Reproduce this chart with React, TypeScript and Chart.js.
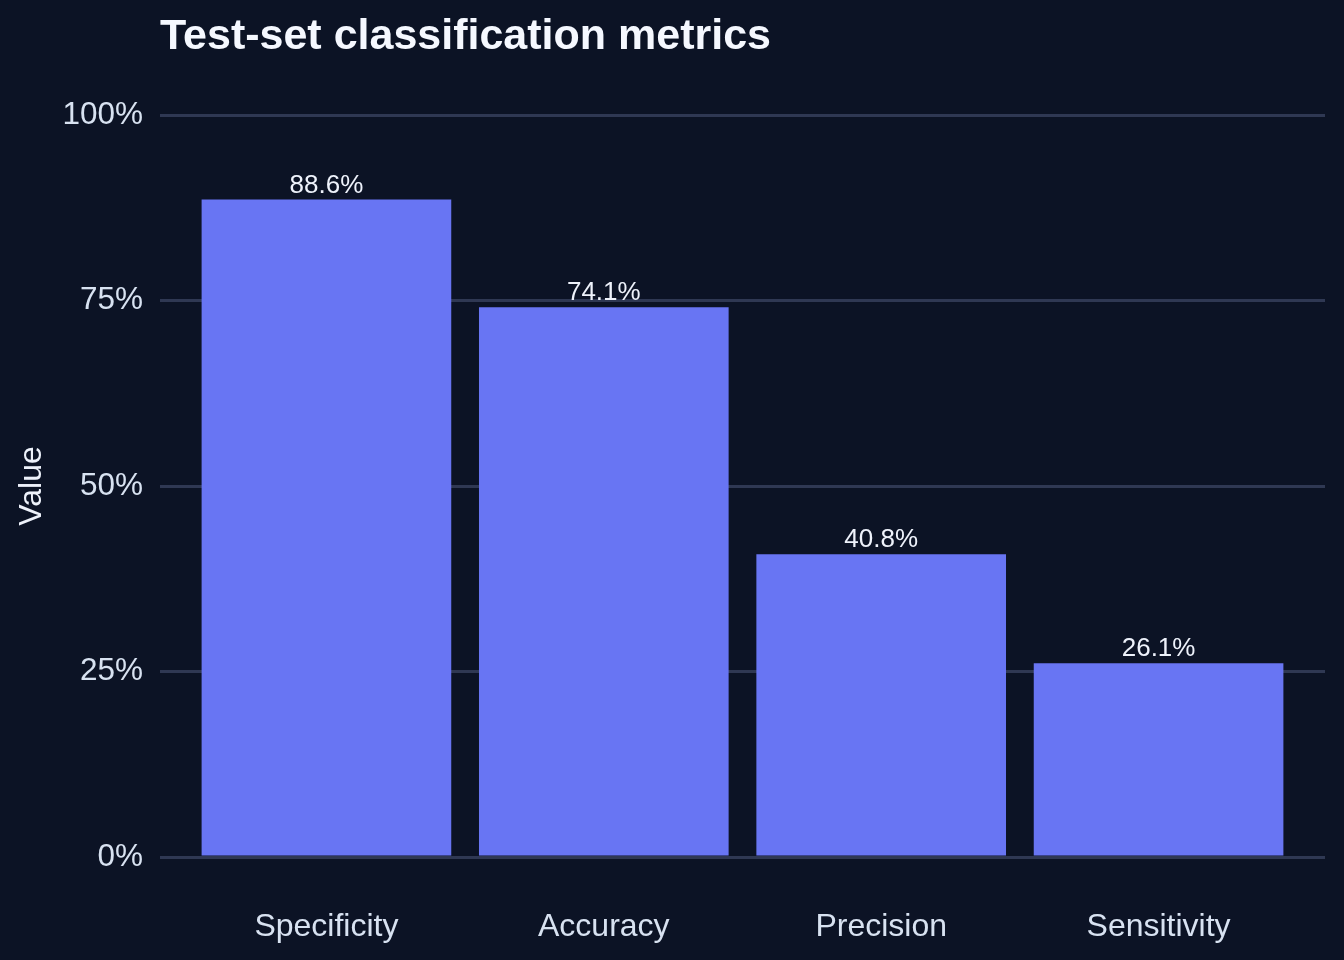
import React, { useEffect, useRef } from 'react'
import Chart, { ChartConfiguration, Plugin } from 'chart.js/auto'

const categories = ['Specificity', 'Accuracy', 'Precision', 'Sensitivity']
const values = [88.6, 74.1, 40.8, 26.1]
const yTicks = [0, 25, 50, 75, 100]

const BG = '#0c1325'
const BAR = '#6875f3'
const GRID = '#2f3853'
const TEXT = '#d8e2f1'
const FONT = "'Liberation Sans', Arial, Helvetica, sans-serif"

// value labels above each bar
const barLabels: Plugin<'bar'> = {
  id: 'barLabels',
  afterDatasetsDraw(chart) {
    const ctx = chart.ctx
    const meta = chart.getDatasetMeta(0)
    ctx.save()
    ctx.font = `26px ${FONT}`
    ctx.fillStyle = '#eef2fb'
    ctx.textAlign = 'center'
    ctx.textBaseline = 'alphabetic'
    meta.data.forEach((bar, i) => {
      ctx.fillText(`${values[i].toFixed(1)}%`, bar.x, bar.y - 7)
    })
    ctx.restore()
  },
}

const App = () => {
  const chartRef = useRef<HTMLCanvasElement>(null)
  const chartInstance = useRef<Chart>()

  useEffect(() => {
    document.body.style.margin = '0'
    document.body.style.background = BG
    if (chartRef.current) {
      const ctx = chartRef.current.getContext('2d')
      if (ctx) {
        const config: ChartConfiguration<'bar', { x: number; y: number }[], string> = {
          type: 'bar',
          data: {
            datasets: [
              {
                data: values.map((v, i) => ({ x: i + 1, y: v })),
                backgroundColor: BAR,
                borderWidth: 0,
                categoryPercentage: 0.9,
                barPercentage: 1,
              },
            ],
          },
          options: {
            animation: false,
            responsive: false,
            layout: { padding: { left: 0, right: 19, top: 0, bottom: 0 } },
            plugins: {
              legend: { display: false },
              tooltip: { enabled: false },
              title: {
                display: true,
                text: 'Test-set classification metrics',
                align: 'start',
                fullSize: false,
                color: '#f5f8ff',
                font: { family: FONT, size: 43, weight: 'bold', lineHeight: 1.2 },
                padding: { top: 11, bottom: 52.4 },
              },
            },
            scales: {
              x: {
                type: 'linear',
                min: 0.4,
                max: 4.6,
                offset: false,
                grid: { display: false },
                border: { display: false },
                afterBuildTicks: (scale) => {
                  scale.ticks = categories.map((_, i) => ({ value: i + 1 }))
                },
                afterFit: (scale) => {
                  scale.height = 103
                },
                ticks: {
                  color: TEXT,
                  padding: 43,
                  autoSkip: false,
                  maxRotation: 0,
                  font: { family: FONT, size: 32 },
                  callback: (v) => categories[Number(v) - 1] ?? '',
                },
              },
              y: {
                min: 0,
                max: 100,
                afterBuildTicks: (scale) => {
                  scale.ticks = yTicks.map((v) => ({ value: v }))
                },
                afterFit: (scale) => {
                  scale.width = 160
                },
                grid: { color: GRID, lineWidth: 3, drawTicks: false },
                border: { display: false },
                ticks: {
                  color: TEXT,
                  padding: 17,
                  font: { family: FONT, size: 31.5 },
                  callback: (v) => `${v}%`,
                },
                title: {
                  display: true,
                  text: 'Value',
                  color: '#eef2fb',
                  font: { family: FONT, size: 32 },
                  padding: { top: 13, bottom: 0 },
                },
              },
            },
          },
          plugins: [barLabels],
        }
        chartInstance.current = new Chart(ctx, config as any)
      }
    }

    return () => {
      if (chartInstance.current) {
        chartInstance.current.destroy()
      }
    }
  }, [])

  return (
    <div style={{ width: 1344, height: 960, background: BG }}>
      <canvas ref={chartRef} width={1344} height={960} style={{ display: 'block' }} />
    </div>
  )
}

export default App
